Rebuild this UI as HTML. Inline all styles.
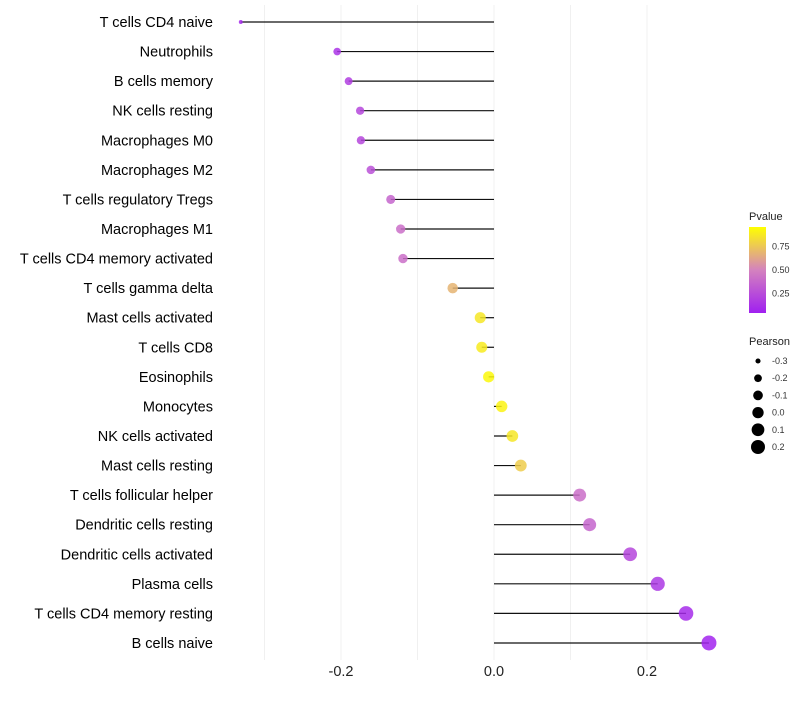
<!DOCTYPE html>
<html><head><meta charset="utf-8"><style>
body{margin:0;background:#fff;font-family:"Liberation Sans",sans-serif}
svg text{font-family:"Liberation Sans",sans-serif}
</style></head><body>
<svg id="chart" width="800" height="700" xmlns="http://www.w3.org/2000/svg">
<g id="grid"></g>
<g id="rows"></g>
<g id="xaxis"></g>
<g id="legend"></g>
</svg>
<script>
const categories=["T cells CD4 naive","Neutrophils","B cells memory","NK cells resting","Macrophages M0","Macrophages M2","T cells regulatory  Tregs","Macrophages M1","T cells CD4 memory activated","T cells gamma delta","Mast cells activated","T cells CD8","Eosinophils","Monocytes","NK cells activated","Mast cells resting","T cells follicular helper","Dendritic cells resting","Dendritic cells activated","Plasma cells","T cells CD4 memory resting","B cells naive"];
const pearson=[-0.331,-0.205,-0.190,-0.175,-0.174,-0.161,-0.135,-0.122,-0.119,-0.054,-0.018,-0.016,-0.007,0.010,0.024,0.035,0.112,0.125,0.178,0.214,0.251,0.281];
const pvalue=[0.05,0.1,0.15,0.2,0.2,0.25,0.35,0.4,0.4,0.7,0.9,0.92,0.97,0.95,0.9,0.8,0.4,0.35,0.2,0.12,0.06,0.02];
const xTicks=[-0.2,0.0,0.2];
const xTickLabels=["-0.2","0.0","0.2"];
const gridVals=[-0.3,-0.2,-0.1,0,0.1,0.2];
const pTicks=[0.25,0.5,0.75];
const sizeTicks=[-0.3,-0.2,-0.1,0.0,0.1,0.2];

const NS="http://www.w3.org/2000/svg";
const X=v=>494+v*765;
const Y=i=>22+i*29.57;
const R=v=>Math.sqrt(Math.max(2,32+v*85));
function lerp(a,b,t){return a.map((c,i)=>Math.round(c+(b[i]-c)*t));}
function col(p){const s=[[160,32,240],[212,130,190],[255,255,0]];
 const c=p<0.5?lerp(s[0],s[1],p/0.5):lerp(s[1],s[2],(p-0.5)/0.5);return `rgb(${c})`;}
function mk(parent,tag,attrs){const e=document.createElementNS(NS,tag);for(const k in attrs)e.setAttribute(k,attrs[k]);parent.appendChild(e);return e;}
const grid=document.getElementById('grid');
gridVals.forEach(v=>{const l=mk(grid,'line',{x1:X(v),x2:X(v),y1:5,y2:660,stroke:'#f0f0f0','stroke-width':1});

});
const rows=document.getElementById('rows');
categories.forEach((c,i)=>{
 const t=mk(rows,'text',{x:213,y:Y(i)+5,'text-anchor':'end','font-size':14.5,fill:'#000'});t.textContent=c;
 
 
 const l=mk(rows,'line',{x1:X(0),x2:X(pearson[i]),y1:Y(i),y2:Y(i),stroke:'#111','stroke-width':1.2});
 
 
 const p=mk(rows,'circle',{cx:X(pearson[i]),cy:Y(i),r:R(pearson[i]),fill:col(pvalue[i]),'fill-opacity':0.85});
 
 
});
const xa=document.getElementById('xaxis');
xTicks.forEach((v,i)=>{const t=mk(xa,'text',{x:X(v),y:676,'text-anchor':'middle','font-size':14.5,fill:'#222'});t.textContent=xTickLabels[i];
 
 });
const lg=document.getElementById('legend');
const defs=mk(lg,'defs',{});const gr=mk(defs,'linearGradient',{id:'pg',x1:0,y1:1,x2:0,y2:0});
[0,0.25,0.5,0.75,1].forEach(o=>mk(gr,'stop',{offset:o,'stop-color':col(o)}));
const tt=mk(lg,'text',{x:749,y:220,'font-size':11,fill:'#222'});tt.textContent='Pvalue';


const bar=mk(lg,'rect',{x:749,y:227,width:17,height:86,fill:'url(#pg)'});


const PY=p=>313-(p-0.04)/0.92*86;
pTicks.forEach(p=>{const t=mk(lg,'text',{x:772,y:PY(p)+3,'font-size':9,fill:'#333'});t.textContent=p.toFixed(2);
 
 });
const st=mk(lg,'text',{x:749,y:345,'font-size':11,fill:'#222'});st.textContent='Pearson';


sizeTicks.forEach((v,i)=>{const y=361+i*17.2;
 const c=mk(lg,'circle',{cx:758,cy:y,r:R(v),fill:'#000'});
 
 
 const t=mk(lg,'text',{x:772,y:y+3,'font-size':9,fill:'#333'});t.textContent=v.toFixed(1);
 
 });
</script>
</body></html>
